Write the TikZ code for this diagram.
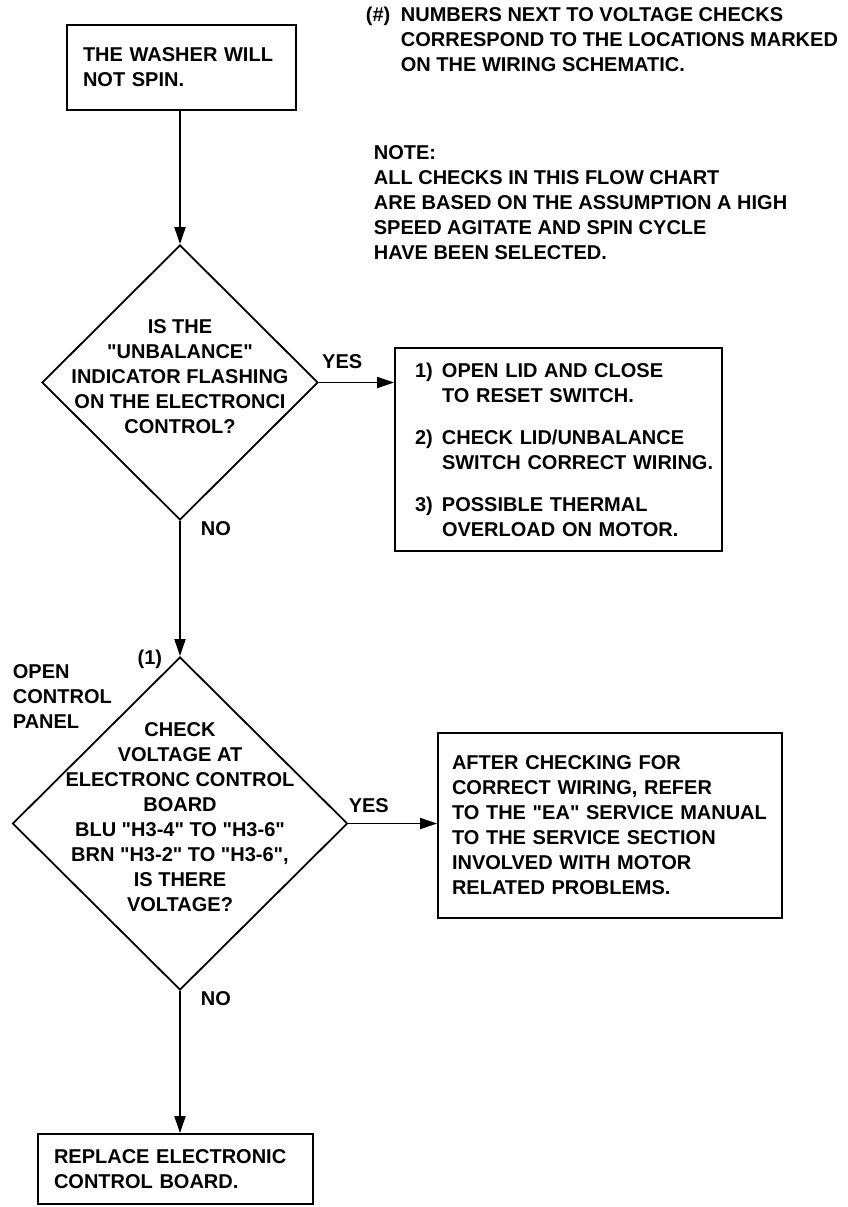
\documentclass[tikz,border=0pt]{standalone}
\usepackage{fontspec}
\setmainfont{Liberation Sans}[BoldFont={Liberation Sans Bold},Ligatures=TeXOff]
\usetikzlibrary{shapes.geometric,arrows.meta}

\begin{document}
\begin{tikzpicture}[x=1pt,y=-1pt,>={Triangle[length=17pt,width=11pt]},line width=1.8pt,
	every node/.style={font=\fontsize{20}{25}\selectfont\bfseries},
	box/.style={draw,rectangle,align=left,inner ysep=0pt},
	test/.style={draw,diamond,inner sep=0pt},
	lbl/.style={inner sep=0pt,align=left}]

		\useasboundingbox (0,0) rectangle (847,1207);

		% notes at the top
		\node (hint) [lbl,anchor=west] at (365,39) {\makebox[35pt][l]{(\#)}NUMBERS NEXT TO VOLTAGE CHECKS\\\hspace*{35pt}CORRESPOND TO THE LOCATIONS MARKED\\\hspace*{35pt}ON THE WIRING SCHEMATIC.};
		\node (note) [lbl,anchor=west] at (373,203) {NOTE:\\ALL CHECKS IN THIS FLOW CHART\\ARE BASED ON THE ASSUMPTION A HIGH\\SPEED AGITATE AND SPIN CYCLE\\HAVE BEEN SELECTED.};

		% flow
		\node (start) [box,inner xsep=16pt,text width=197pt,minimum height=85pt] at (181.5,67.5) {THE WASHER WILL\\NOT SPIN.};

		\node (q1) [test,minimum width=276pt,minimum height=275pt] at (180,382.5) {};
		\node (q1text) [lbl,align=center] at ([yshift=6pt]q1.center) {IS THE\\"UNBALANCE"\\INDICATOR FLASHING\\ON THE ELECTRONCI\\CONTROL?};

		\node (fix1) [box,inner xsep=4pt,text width=319pt,minimum height=203pt] at (558.5,449.5) {\hspace*{16pt}\makebox[27pt][l]{1)}OPEN LID AND CLOSE\\\hspace*{43pt}TO RESET SWITCH.\\[17pt]\hspace*{16pt}\makebox[27pt][l]{2)}CHECK LID/UNBALANCE\\\hspace*{43pt}SWITCH CORRECT WIRING.\\[17pt]\hspace*{16pt}\makebox[27pt][l]{3)}POSSIBLE THERMAL\\\hspace*{43pt}OVERLOAD ON MOTOR.};

		\node (q2) [test,minimum width=335pt,minimum height=333pt] at (180,823.5) {};
		\node (q2text) [lbl,align=center] at ([yshift=6pt]q2.center) {CHECK\\VOLTAGE AT\\ELECTRONC CONTROL\\BOARD\\BLU "H3-4" TO "H3-6"\\BRN "H3-2" TO "H3-6",\\IS THERE\\VOLTAGE?};
		\node (ref1) [lbl,anchor=east] at ([xshift=-17pt,yshift=-3pt]q2.north) {(1)};
		\node (panel) [lbl,anchor=west] at (12,697) {OPEN\\CONTROL\\PANEL};

		\node (fix2) [box,inner xsep=14pt,text width=316pt,minimum height=185pt] at (610,825.5) {AFTER CHECKING FOR\\CORRECT WIRING, REFER\\TO THE "EA" SERVICE MANUAL\\TO THE SERVICE SECTION\\INVOLVED WITH MOTOR\\RELATED PROBLEMS.};
		\node (fix3) [box,inner xsep=16pt,text width=243pt,minimum height=70pt] at (175.5,1169) {REPLACE ELECTRONIC\\CONTROL BOARD.};

		\draw[->] (start.south -| q1.north) to (q1.north);
		\draw[->] (q1.east) to node[lbl,pos=0.31,above=13pt] {YES} (q1.east -| fix1.west);
		\draw[->] (q1.south) to node[lbl,pos=0,anchor=north west,xshift=20pt] {NO} (q2.north);
		\draw[->] (q2.east) to node[lbl,pos=0.23,above=10pt] {YES} (q2.east -| fix2.west);
		\draw[->] (q2.south) to node[lbl,pos=0,anchor=north west,xshift=20pt] {NO} (q2.south |- fix3.north);

		;
	\end{tikzpicture}
\end{document}
